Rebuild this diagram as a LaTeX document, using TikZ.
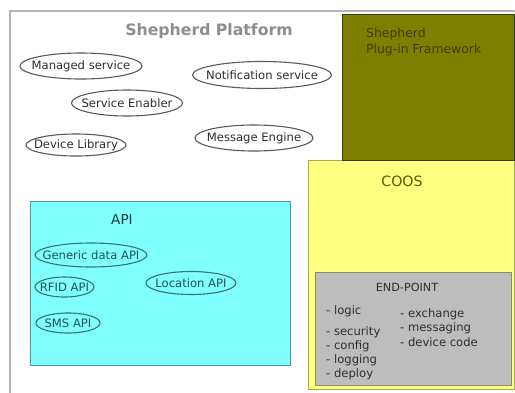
\documentclass[tikz,border=0pt]{standalone}
\usepackage{fontspec}
\setmainfont{DejaVu Sans}
\usetikzlibrary{shapes.geometric}
\definecolor{olivebox}{HTML}{7E7E00}
\definecolor{olivedark}{HTML}{3C3C00}
\definecolor{yellowbox}{HTML}{FFFF80}
\definecolor{yellowline}{HTML}{A8A860}
\definecolor{graybox}{HTML}{BDBDBD}
\definecolor{grayline}{HTML}{8C8C58}
\definecolor{cyanbox}{HTML}{80FFFF}
\definecolor{cyanline}{HTML}{4C9A9A}
\definecolor{tealtext}{HTML}{1F5252}
\definecolor{outerline}{HTML}{B4B4B4}
\definecolor{titlegray}{HTML}{8E8E8E}
\definecolor{labeltext}{HTML}{2E2E2E}
\definecolor{ellline}{HTML}{5A5A5A}
\tikzset{
  ell/.style={shape=ellipse, draw=ellline, line width=1.1pt, text=labeltext,
    inner xsep=-60pt, inner ysep=-12pt, font=\fontsize{11.6}{13}\selectfont},
  apiell/.style={ell, draw=cyanline!75!black, text=tealtext},
  item/.style={anchor=west, inner sep=0pt, text=labeltext, font=\fontsize{11.6}{13}\selectfont},
}
\begin{document}
\begin{tikzpicture}[x=1pt,y=-1pt]
\useasboundingbox (0,0) rectangle (515,392);
\clip (0,0) rectangle (515,392);
\fill[white] (0,0) rectangle (515,392);
% outer platform frame
\draw[outerline, line width=1.5pt] (10,11) rectangle (540,420);
\node[text=titlegray, font=\bfseries\fontsize{15.7}{17}\selectfont] (title) at (209,31) {Shepherd Platform};
% platform services
\node[ell, minimum width=122, minimum height=26] (ms) at (81,66) {Managed service};
\node[ell, minimum width=111, minimum height=26] (se) at (127,103) {Service Enabler};
\node[ell, minimum width=100, minimum height=22] (dl) at (76,145) {Device Library};
\node[ell, minimum width=139, minimum height=27] (ns) at (262,75) {Notification service};
\node[ell, minimum width=118, minimum height=26] (me) at (254,138) {Message Engine};
% COOS
\draw[yellowline, fill=yellowbox, line width=1pt] (308,160) rectangle (514,389);
\node[text=olivebox!70!black, font=\fontsize{14.2}{16}\selectfont] (coos) at (402,181) {COOS};
% plug-in framework
\draw[olivedark, fill=olivebox, line width=1pt] (342,14) rectangle (514,160);
\node[anchor=north west, align=left, text=olivedark, inner sep=0pt,
  font=\fontsize{12.4}{16}\selectfont] (plug) at (366,28) {Shepherd\\Plug-in Framework};
% end-point
\draw[grayline, fill=graybox, line width=1pt] (315,272) rectangle (511,385);
\node[text=labeltext, font=\fontsize{11.2}{13}\selectfont] (ep) at (407,287) {END-POINT};
\node[item] (logic) at (326,311) {- logic};
\node[item] (sec) at (326,332) {- security};
\node[item] (cfg) at (326,346) {- config};
\node[item] (log) at (326,360) {- logging};
\node[item] (dep) at (326,374) {- deploy};
\node[item] (exc) at (400,314) {- exchange};
\node[item] (msg) at (400,328) {- messaging};
\node[item] (dev) at (400,342) {- device code};
% API
\draw[cyanline, fill=cyanbox, line width=1pt] (30,201) rectangle (290,365);
\node[text=tealtext!70!black, font=\fontsize{13.6}{15}\selectfont] (api) at (122,220) {API};
\node[apiell, minimum width=112, minimum height=24] (gd) at (91,255) {Generic data API};
\node[apiell, minimum width=59, minimum height=20] (rf) at (64.5,287) {RFID API};
\node[apiell, minimum width=90, minimum height=23] (lo) at (191,283) {Location API};
\node[apiell, minimum width=64, minimum height=20] (sm) at (68,323) {SMS API};
\end{tikzpicture}
\end{document}
